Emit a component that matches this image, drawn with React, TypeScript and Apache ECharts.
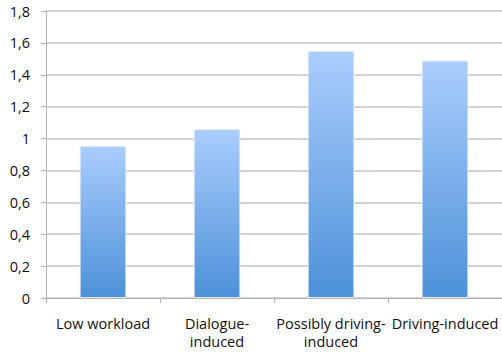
import React, { useEffect, useRef } from "react";
import * as echarts from "echarts";

const categories = ["Low workload", "Dialogue-\ninduced", "Possibly driving-\ninduced", "Driving-induced"];
const values = [0.955, 1.06, 1.55, 1.49];
const yTicks = { min: 0, max: 1.8, interval: 0.2 };

export default function App() {
  const ref = useRef<HTMLDivElement>(null);

  useEffect(() => {
    if (!ref.current) return;
    const chart = echarts.init(ref.current, null, { renderer: "svg" });
    const font = "'Open Sans', 'Noto Sans', sans-serif";
    chart.setOption({
      animation: false,
      grid: { left: 46, top: 11, width: 458, height: 287, containLabel: false },
      xAxis: {
        type: "category",
        data: categories,
        axisLine: { lineStyle: { color: "#b4b4b4", width: 1 } },
        axisTick: { show: true, length: 5, lineStyle: { color: "#b4b4b4" } },
        axisLabel: {
          interval: 0,
          margin: 16,
          color: "#111",
          fontFamily: font,
          fontSize: 14.5,
          lineHeight: 18,
        },
      },
      yAxis: {
        type: "value",
        min: yTicks.min,
        max: yTicks.max,
        interval: yTicks.interval,
        axisLine: { show: true, lineStyle: { color: "#b4b4b4", width: 1 } },
        axisTick: { show: true, length: 5, lineStyle: { color: "#b4b4b4" } },
        splitLine: { lineStyle: { color: "#c4c4c4", width: 1.5 } },
        axisLabel: {
          margin: 16,
          color: "#111",
          fontFamily: font,
          fontSize: 14.5,
          formatter: (v: number) => String(Math.round(v * 10) / 10).replace(".", ","),
        },
      },
      series: [
        {
          type: "bar",
          data: values,
          barWidth: "41%",
          itemStyle: {
            borderColor: "rgba(235,240,248,0.9)",
            borderWidth: 1,
            color: new echarts.graphic.LinearGradient(0, 0, 0, 1, [
              { offset: 0, color: "#aacdfd" },
              { offset: 1, color: "#4d91d8" },
            ]),
          },
        },
      ],
    });
    return () => chart.dispose();
  }, []);

  return (
    <div
      ref={ref}
      style={{ position: "absolute", left: 0, top: 0, width: 502, height: 352, background: "#fff" }}
    />
  );
}
